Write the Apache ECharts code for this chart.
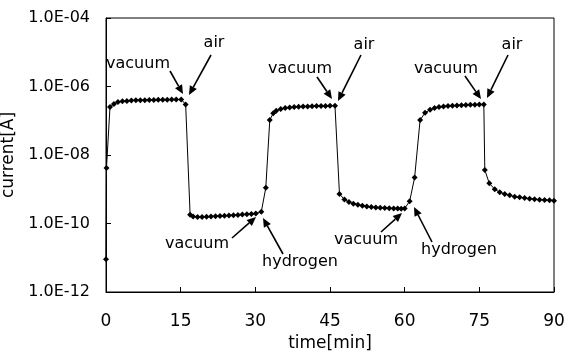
<!DOCTYPE html>
<html><head><meta charset="utf-8">
<script src="https://cdn.jsdelivr.net/npm/echarts@6/dist/echarts.min.js"></script>
<style>html,body{margin:0;padding:0;background:#fff}#c{width:564px;height:352px}</style>
</head><body><div id="c"></div>
<script>
// ---- data (time in minutes, current in A) ----
const timeMin = [
  0, 0.1, 0.8, 1.6, 2.4, 3.3, 4.2, 5.1, 6.0, 6.9, 7.8, 8.7, 9.6, 10.5, 11.4, 12.3, 13.2, 14.1, 15.1, 16.0,
  16.9, 17.5, 18.4, 19.3, 20.2, 21.1, 22.0, 22.9, 23.8, 24.7, 25.6, 26.5, 27.4, 28.3, 29.2, 30.1, 31.2,
  32.1, 32.9, 33.6, 34.2, 35.1, 36.0, 36.9, 37.8, 38.7, 39.6, 40.5, 41.4, 42.3, 43.2, 44.1, 45.0, 46.0,
  46.9, 47.9, 48.8, 49.7, 50.6, 51.5, 52.4, 53.3, 54.2, 55.1, 56.0, 56.9, 57.8, 58.6, 59.3, 60.0,
  61.0, 62.0, 63.1, 64.1, 65.1, 66.0, 66.9, 67.8, 68.7, 69.6, 70.5, 71.4, 72.3, 73.2, 74.1, 75.0, 75.9,
  76.1, 77.0, 78.1, 79.1, 80.1, 81.1, 82.1, 83.1, 84.1, 85.1, 86.1, 87.1, 88.1, 89.1, 90.0
];
const currentA = [
  9e-12, 4.2e-9, 2.5e-7, 3.1e-7, 3.5e-7, 3.7e-7, 3.8e-7, 3.9e-7, 3.95e-7, 4.0e-7, 4.0e-7, 4.05e-7, 4.05e-7, 4.1e-7, 4.1e-7, 4.1e-7, 4.15e-7, 4.15e-7, 4.2e-7, 3.0e-7,
  1.8e-10, 1.6e-10, 1.55e-10, 1.56e-10, 1.58e-10, 1.6e-10, 1.62e-10, 1.65e-10, 1.68e-10, 1.72e-10, 1.75e-10, 1.78e-10, 1.82e-10, 1.86e-10, 1.9e-10, 1.95e-10, 2.2e-10,
  1.1e-9, 1.05e-7, 1.65e-7, 1.95e-7, 2.2e-7, 2.35e-7, 2.45e-7, 2.5e-7, 2.55e-7, 2.6e-7, 2.62e-7, 2.65e-7, 2.68e-7, 2.7e-7, 2.7e-7, 2.72e-7, 2.75e-7,
  7.3e-10, 5.0e-10, 4.25e-10, 3.8e-10, 3.5e-10, 3.3e-10, 3.15e-10, 3.05e-10, 2.95e-10, 2.9e-10, 2.85e-10, 2.8e-10, 2.75e-10, 2.72e-10, 2.7e-10, 2.75e-10,
  4.45e-10, 2.2e-9, 1.05e-7, 1.7e-7, 2.1e-7, 2.35e-7, 2.5e-7, 2.6e-7, 2.7e-7, 2.75e-7, 2.8e-7, 2.85e-7, 2.9e-7, 2.92e-7, 2.95e-7, 2.98e-7, 3.0e-7,
  3.65e-9, 1.49e-9, 1.0e-9, 8.15e-10, 7.27e-10, 6.65e-10, 6.05e-10, 5.82e-10, 5.55e-10, 5.3e-10, 5.09e-10, 4.96e-10, 4.86e-10, 4.76e-10, 4.63e-10
];
const xTickValues = [0, 15, 30, 45, 60, 75, 90];
const yTickLabels = ['1.0E-12', '1.0E-10', '1.0E-08', '1.0E-06', '1.0E-04'];
const annotationTexts = ['vacuum', 'air', 'vacuum', 'air', 'vacuum', 'air', 'vacuum', 'hydrogen', 'vacuum', 'hydrogen'];

// ---- layout of annotations (pixels) ----
const annLayout = [
  { t: [138, 64], a: [170, 71], b: [183, 94] },
  { t: [214, 43], a: [211, 55], b: [189, 95] },
  { t: [300, 69], a: [317, 77], b: [332, 99] },
  { t: [364, 45], a: [361, 55], b: [338, 101] },
  { t: [446, 69], a: [465, 76], b: [481, 99] },
  { t: [512, 45], a: [508, 55], b: [487, 98] },
  { t: [197, 244], a: [232, 238], b: [256, 217] },
  { t: [300, 262], a: [283, 254], b: [263, 218] },
  { t: [366, 240], a: [381, 232], b: [402, 213] },
  { t: [459, 250], a: [432, 242], b: [414, 207] }
];

const FONT = '"DejaVu Sans", sans-serif';
const seriesData = timeMin.map((t, i) => [t, currentA[i]]);

const graphics = [];
annLayout.forEach((L, i) => {
  graphics.push({
    type: 'text', silent: true,
    style: { text: annotationTexts[i], x: L.t[0], y: L.t[1], fill: '#000',
      font: '16px ' + FONT, align: 'center', verticalAlign: 'middle',
      textAlign: 'center', textVerticalAlign: 'middle' }
  });
  const dx = L.b[0] - L.a[0], dy = L.b[1] - L.a[1];
  const len = Math.sqrt(dx * dx + dy * dy);
  const ux = dx / len, uy = dy / len;
  const H = 9, W = 4;
  const bx = L.b[0] - ux * H, by = L.b[1] - uy * H;
  graphics.push({
    type: 'line', silent: true,
    shape: { x1: L.a[0], y1: L.a[1], x2: bx, y2: by },
    style: { stroke: '#000', lineWidth: 1.6 }
  });
  graphics.push({
    type: 'polygon', silent: true,
    shape: { points: [[L.b[0], L.b[1]], [bx - uy * W, by + ux * W], [bx + uy * W, by - ux * W]] },
    style: { fill: '#000' }
  });
});

const chart = echarts.init(document.getElementById('c'), null, { renderer: 'canvas' });
chart.setOption({
  animation: false,
  backgroundColor: '#fff',
  textStyle: { fontFamily: FONT, color: '#000' },
  grid: { left: 106, right: 10, top: 18, bottom: 60, containLabel: false, outerBoundsMode: 'none',
    show: true, borderColor: '#000', borderWidth: 1, backgroundColor: 'transparent' },
  xAxis: {
    type: 'value', min: 0, max: 90, interval: 15,
    name: 'time[min]', nameLocation: 'middle', nameGap: 36,
    nameTextStyle: { fontSize: 17, color: '#000', fontFamily: FONT },
    axisLine: { lineStyle: { color: '#000', width: 1 } },
    axisTick: { inside: true, length: 5, lineStyle: { color: '#000' } },
    axisLabel: { fontSize: 17, color: '#000', margin: 21, fontFamily: FONT,
      formatter: v => (xTickValues.indexOf(v) >= 0 ? String(v) : '') },
    splitLine: { show: false }
  },
  yAxis: {
    type: 'log', logBase: 100, min: 1e-12, max: 1e-4,
    name: 'current[A]', nameLocation: 'middle', nameGap: 78, nameRotate: 90,
    nameTextStyle: { fontSize: 17, color: '#000', fontFamily: FONT },
    axisLine: { show: true, lineStyle: { color: '#000', width: 1 } },
    axisTick: { show: true, inside: true, length: 5, lineStyle: { color: '#000' } },
    axisLabel: { fontSize: 16, color: '#000', margin: 16, fontFamily: FONT,
      formatter: v => {
        const k = Math.round((Math.log10(v) + 12) / 2);
        return yTickLabels[k] !== undefined ? yTickLabels[k] : '';
      } },
    splitLine: { show: false }
  },
  series: [{
    type: 'line', data: seriesData,
    symbol: 'diamond', symbolSize: 6, showSymbol: true,
    lineStyle: { color: '#000', width: 1 },
    itemStyle: { color: '#000' }
  }],
  graphic: graphics
});
</script>
</body></html>
